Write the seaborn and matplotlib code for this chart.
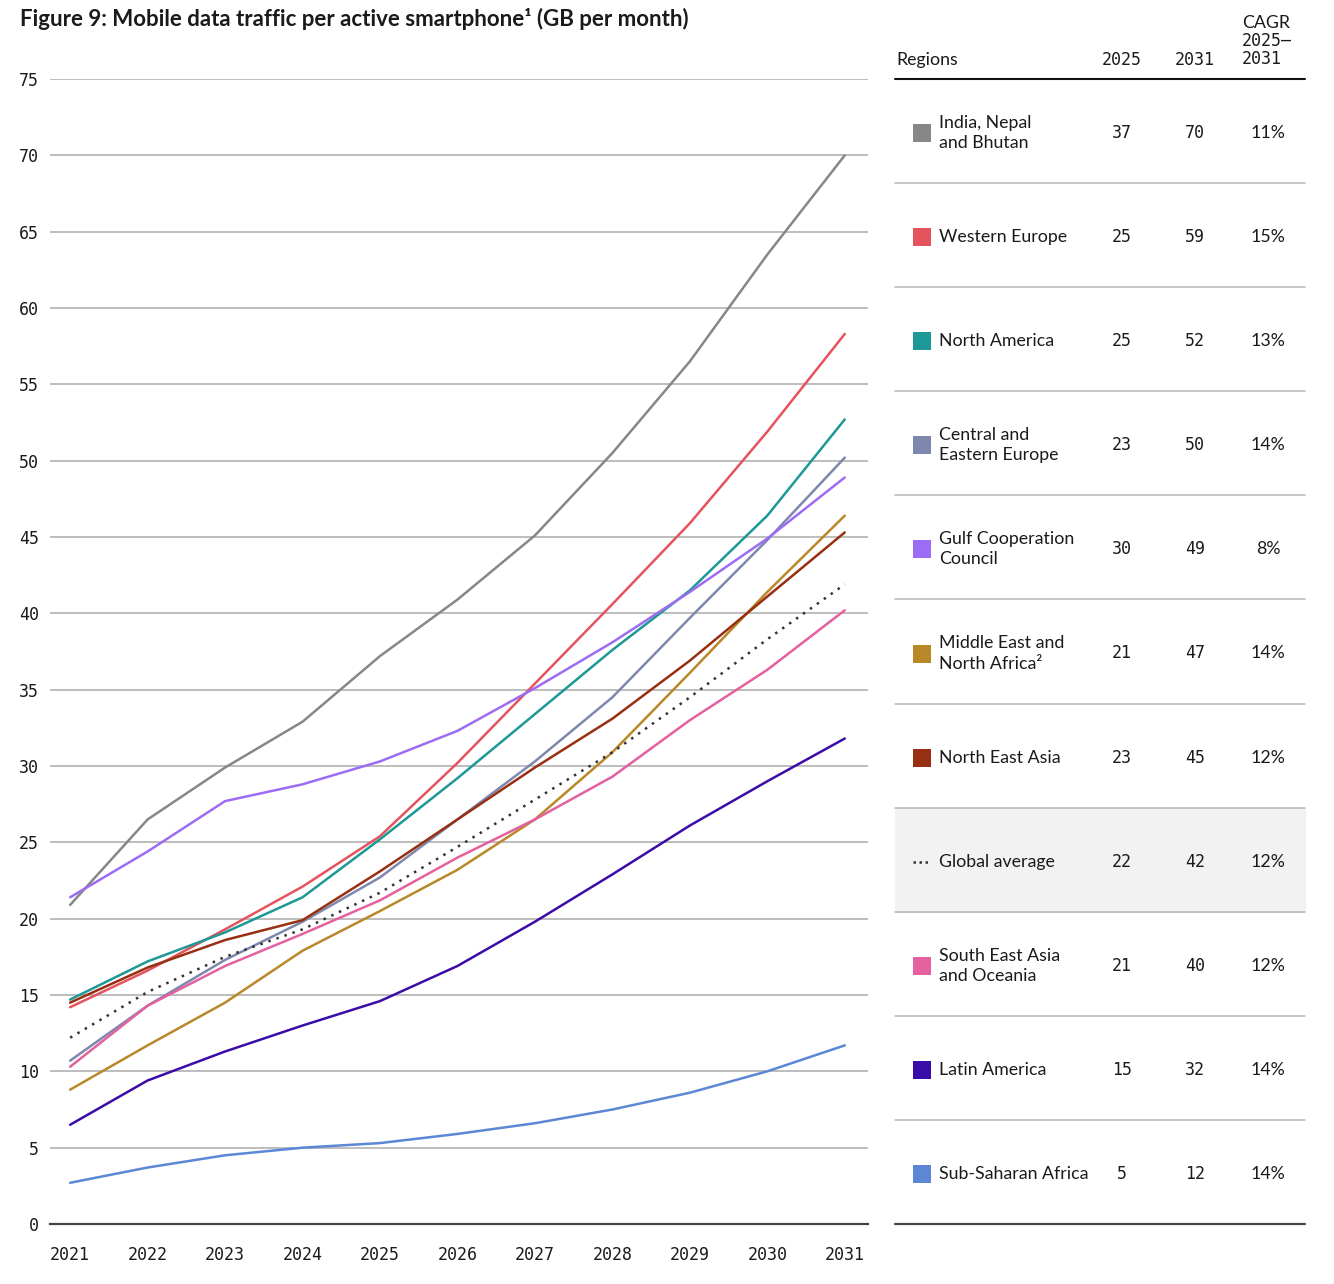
import matplotlib
matplotlib.use("Agg")
import pandas as pd
import matplotlib.pyplot as plt
import seaborn as sns
from matplotlib.patches import Rectangle

# --- 1. DATA (GB per month) ---
years = list(range(2021, 2032))

regions = [
    "India, Nepal and Bhutan", "Western Europe", "North America",
    "Central and Eastern Europe", "Gulf Cooperation Council",
    "Middle East and North Africa", "North East Asia", "Global average",
    "South East Asia and Oceania", "Latin America", "Sub-Saharan Africa",
]

india = [20.9, 26.5, 29.9, 32.9, 37.2, 40.9, 45.1, 50.5, 56.5, 63.5, 70.0]
western_europe = [14.2, 16.6, 19.3, 22.1, 25.4, 30.2, 35.4, 40.6, 45.9, 51.9, 58.3]
north_america = [14.7, 17.2, 19.1, 21.4, 25.2, 29.2, 33.4, 37.6, 41.5, 46.4, 52.7]
central_eastern_europe = [10.7, 14.3, 17.3, 19.8, 22.7, 26.5, 30.3, 34.5, 39.7, 44.8, 50.2]
gulf = [21.4, 24.4, 27.7, 28.8, 30.3, 32.3, 35.1, 38.1, 41.4, 44.9, 48.9]
mena = [8.8, 11.7, 14.5, 17.9, 20.5, 23.2, 26.5, 30.9, 36.1, 41.4, 46.4]
north_east_asia = [14.5, 16.8, 18.6, 19.9, 23.1, 26.5, 29.9, 33.1, 36.9, 41.1, 45.3]
global_avg = [12.2, 15.2, 17.5, 19.3, 21.7, 24.7, 27.8, 30.9, 34.5, 38.3, 41.9]
south_east_asia = [10.3, 14.3, 16.9, 19.0, 21.2, 24.0, 26.5, 29.3, 33.0, 36.3, 40.2]
latin_america = [6.5, 9.4, 11.3, 13.0, 14.6, 16.9, 19.8, 22.9, 26.1, 29.0, 31.8]
sub_saharan = [2.7, 3.7, 4.5, 5.0, 5.3, 5.9, 6.6, 7.5, 8.6, 10.0, 11.7]

series = [india, western_europe, north_america, central_eastern_europe, gulf,
          mena, north_east_asia, global_avg, south_east_asia, latin_america,
          sub_saharan]

colors = ["#878787", "#e5535f", "#1e9896", "#7e88ae", "#9c6cf4", "#b98829",
          "#992f12", "#333333", "#e4609f", "#3a0ca8", "#5b87d5"]

# table on the right
table_labels = [
    "India, Nepal\nand Bhutan", "Western Europe", "North America",
    "Central and\nEastern Europe", "Gulf Cooperation\nCouncil",
    "Middle East and\nNorth Africa\u00b2", "North East Asia", "Global average",
    "South East Asia\nand Oceania", "Latin America", "Sub-Saharan Africa",
]
table_2025 = [37, 25, 25, 23, 30, 21, 23, 22, 21, 15, 5]
table_2031 = [70, 59, 52, 50, 49, 47, 45, 42, 40, 32, 12]
table_cagr = ["11%", "15%", "13%", "14%", "8%", "14%", "12%", "12%", "12%", "14%", "14%"]

yticks = [0, 5, 10, 15, 20, 25, 30, 35, 40, 45, 50, 55, 60, 65, 70, 75]

# long form for seaborn
df = pd.DataFrame({
    "Year": years * len(regions),
    "Region": [r for r in regions for _ in years],
    "GB": [v for s in series for v in s],
})

# --- 2. STYLE ---
sns.set_theme(style="white")
plt.rcParams["font.family"] = ["Lato", "DejaVu Sans"]
MONO = "DejaVu Sans Mono"
TXT = "#1a1a1a"
FS = 12.8

W, H = 1334, 1284
fig = plt.figure(figsize=(W / 100, H / 100), dpi=100)

# overlay in pixel coords for title + table
ov = fig.add_axes([0, 0, 1, 1])
ov.set_xlim(0, W)
ov.set_ylim(H, 0)
ov.axis("off")

ax = fig.add_axes([50 / W, 60 / H, 818 / W, 1145 / H])
ax.patch.set_alpha(0)

palette = dict(zip(regions, colors))
dashes = {r: "" for r in regions}
dashes["Global average"] = (1, 2.4)
sns.lineplot(data=df, x="Year", y="GB", hue="Region", style="Region",
             palette=palette, dashes=dashes, linewidth=1.8, legend=False, ax=ax)

ax.set_xlim(2020.74, 2031.3)
ax.set_ylim(0, 75)
ax.set_yticks(yticks)
ax.set_xticks(years)
ax.set_yticklabels([str(t) for t in yticks], fontfamily=MONO, fontsize=12, color=TXT)
ax.set_xticklabels([str(y) for y in years], fontfamily=MONO, fontsize=12, color=TXT)
ax.tick_params(axis="y", length=0, pad=8)
ax.tick_params(axis="x", length=0, pad=15.5)
ax.set_xlabel("")
ax.set_ylabel("")
ax.grid(axis="y", color="#ababab", linewidth=1.1)
ax.set_axisbelow(True)
for side in ["top", "right", "left"]:
    ax.spines[side].set_visible(False)
ax.spines["bottom"].set_color("#444444")
ax.spines["bottom"].set_linewidth(1.6)

# title
ov.text(20, 19, "Figure 9: Mobile data traffic per active smartphone\u00b9 (GB per month)",
        fontsize=16, fontweight="bold", color=TXT, va="center", ha="left")

# --- 3. TABLE ---
x0, x1 = 895, 1305
top, bottom = 79, 1224
row_h = (bottom - top) / len(table_labels)
c25, c31, ccagr = 1122, 1195, 1268

ov.text(896, 60, "Regions", fontsize=FS, color=TXT, va="center")
ov.text(c25, 60, "2025", fontsize=12, fontfamily=MONO, color=TXT, va="center", ha="center")
ov.text(c31, 60, "2031", fontsize=12, fontfamily=MONO, color=TXT, va="center", ha="center")
ov.text(1242, 23, "CAGR", fontsize=FS, color=TXT, va="center")
ov.text(1242, 41, "2025\u2013", fontsize=12, fontfamily=MONO, color=TXT, va="center")
ov.text(1242, 59, "2031", fontsize=12, fontfamily=MONO, color=TXT, va="center")
ov.plot([x0, x1], [top, top], color="#111111", lw=1.5)

for i, lab in enumerate(table_labels):
    y_top = top + i * row_h
    yc = y_top + row_h / 2 + 2
    if lab == "Global average":
        ov.add_patch(Rectangle((x0, y_top), x1 - x0, row_h, color="#f2f2f2", zorder=0))
        ov.plot([913, 931], [yc, yc], color="#333333", lw=1.8, dashes=(1, 1.4))
    else:
        ov.add_patch(Rectangle((913, yc - 9), 18, 18, color=colors[i], lw=0))
    ov.text(939, yc, lab, fontsize=FS, color=TXT, va="center", ha="left", linespacing=1.32)
    ov.text(c25, yc, str(table_2025[i]), fontsize=12, fontfamily=MONO, color=TXT,
            va="center", ha="center")
    ov.text(c31, yc, str(table_2031[i]), fontsize=12, fontfamily=MONO, color=TXT,
            va="center", ha="center")
    ov.text(ccagr, yc, table_cagr[i], fontsize=FS, color=TXT, va="center", ha="center")
    y_b = y_top + row_h
    if i < len(table_labels) - 1:
        ov.plot([x0, x1], [y_b, y_b], color="#b5b5b5", lw=1.1)
    else:
        ov.plot([x0, x1], [y_b, y_b], color="#444444", lw=1.6)

fig.savefig("out.png", dpi=100)
